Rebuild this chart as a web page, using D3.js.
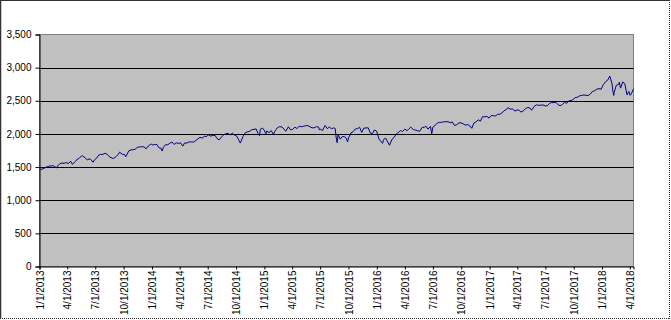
<!DOCTYPE html>
<html><head><meta charset="utf-8">
<script src="https://cdn.jsdelivr.net/npm/d3@7"></script>
<style>
html,body{margin:0;padding:0;background:#fff;}
svg{display:block;}
text{font-family:Arial,"Liberation Sans",sans-serif;}
</style></head>
<body>
<svg id="chart" width="671" height="320"></svg>
<script>
const dates = [
"2013-01-02","2013-01-11","2013-01-18","2013-01-25","2013-02-01","2013-02-08","2013-02-15","2013-02-25","2013-03-01","2013-03-08","2013-03-15","2013-03-22","2013-03-28","2013-04-05","2013-04-12","2013-04-18","2013-04-26","2013-05-03","2013-05-10","2013-05-17","2013-05-21","2013-05-31","2013-06-05","2013-06-14","2013-06-24","2013-06-28","2013-07-05","2013-07-12","2013-07-19","2013-07-26","2013-08-02","2013-08-09","2013-08-16","2013-08-27","2013-08-30","2013-09-06","2013-09-13","2013-09-18","2013-09-27","2013-10-04","2013-10-08","2013-10-18","2013-10-25","2013-11-01","2013-11-08","2013-11-15","2013-11-22","2013-11-29","2013-12-06","2013-12-13","2013-12-20","2013-12-27","2013-12-31",
"2014-01-03","2014-01-10","2014-01-17","2014-01-24","2014-01-31","2014-02-03","2014-02-07","2014-02-14","2014-02-21","2014-02-28","2014-03-07","2014-03-14","2014-03-21","2014-03-28","2014-04-04","2014-04-11","2014-04-17","2014-04-25","2014-05-02","2014-05-09","2014-05-16","2014-05-23","2014-05-30","2014-06-06","2014-06-13","2014-06-20","2014-06-27","2014-07-03","2014-07-11","2014-07-18","2014-07-25","2014-07-31","2014-08-07","2014-08-15","2014-08-22","2014-08-29","2014-09-05","2014-09-12","2014-09-19","2014-09-26","2014-10-03","2014-10-10","2014-10-15","2014-10-17","2014-10-24","2014-10-31","2014-11-07","2014-11-14","2014-11-21","2014-11-28","2014-12-05","2014-12-12","2014-12-16","2014-12-19","2014-12-26","2014-12-31",
"2015-01-06","2015-01-09","2015-01-16","2015-01-23","2015-01-30","2015-02-06","2015-02-13","2015-02-20","2015-02-27","2015-03-06","2015-03-11","2015-03-20","2015-03-27","2015-04-02","2015-04-10","2015-04-17","2015-04-24","2015-05-01","2015-05-08","2015-05-15","2015-05-22","2015-05-29","2015-06-05","2015-06-12","2015-06-19","2015-06-26","2015-06-29","2015-07-02","2015-07-08","2015-07-17","2015-07-24","2015-07-31","2015-08-07","2015-08-14","2015-08-19","2015-08-21","2015-08-25","2015-08-28","2015-09-04","2015-09-11","2015-09-18","2015-09-23","2015-09-28","2015-10-02","2015-10-09","2015-10-16","2015-10-23","2015-10-30","2015-11-06","2015-11-13","2015-11-20","2015-11-27","2015-12-04","2015-12-11","2015-12-18","2015-12-24","2015-12-31",
"2016-01-08","2016-01-15","2016-01-20","2016-01-22","2016-01-29","2016-02-05","2016-02-11","2016-02-19","2016-02-26","2016-03-04","2016-03-11","2016-03-18","2016-03-24","2016-04-01","2016-04-08","2016-04-15","2016-04-20","2016-04-29","2016-05-06","2016-05-13","2016-05-19","2016-05-27","2016-06-03","2016-06-08","2016-06-15","2016-06-23","2016-06-27","2016-07-01","2016-07-08","2016-07-15","2016-07-22","2016-07-29","2016-08-05","2016-08-12","2016-08-19","2016-08-26","2016-09-02","2016-09-09","2016-09-16","2016-09-23","2016-09-30","2016-10-07","2016-10-14","2016-10-21","2016-10-28","2016-11-04","2016-11-11","2016-11-18","2016-11-25","2016-12-02","2016-12-09","2016-12-16","2016-12-23","2016-12-30",
"2017-01-06","2017-01-13","2017-01-20","2017-01-27","2017-02-03","2017-02-10","2017-02-17","2017-02-24","2017-03-01","2017-03-10","2017-03-17","2017-03-24","2017-03-31","2017-04-07","2017-04-13","2017-04-21","2017-04-28","2017-05-05","2017-05-12","2017-05-17","2017-05-26","2017-06-02","2017-06-09","2017-06-16","2017-06-23","2017-06-30","2017-07-07","2017-07-14","2017-07-21","2017-07-28","2017-08-04","2017-08-11","2017-08-18","2017-08-25","2017-09-01","2017-09-08","2017-09-15","2017-09-22","2017-09-29","2017-10-06","2017-10-13","2017-10-20","2017-10-27","2017-11-03","2017-11-10","2017-11-17","2017-11-24","2017-12-01","2017-12-08","2017-12-15","2017-12-22","2017-12-29",
"2018-01-05","2018-01-12","2018-01-19","2018-01-26","2018-02-02","2018-02-05","2018-02-08","2018-02-09","2018-02-16","2018-02-23","2018-02-26","2018-03-02","2018-03-09","2018-03-16","2018-03-23","2018-03-29","2018-04-02","2018-04-06","2018-04-13"
];
const values = [
1462,1472,1486,1503,1513,1518,1520,1488,1518,1551,1561,1556,1569,1553,1588,1541,1582,1614,1633,1667,1669,1631,1609,1626,1573,1606,1632,1680,1692,1691,1709,1691,1655,1630,1633,1655,1688,1725,1692,1690,1656,1745,1759,1762,1771,1798,1805,1806,1805,1775,1818,1841,1848,
1831,1842,1839,1790,1783,1742,1797,1838,1836,1859,1878,1841,1866,1857,1865,1816,1864,1863,1881,1878,1878,1900,1924,1950,1936,1963,1961,1985,1967,1978,1978,1931,1910,1955,1988,2003,2008,1985,2011,1983,1968,1906,1862,1887,1965,2018,2032,2039,2064,2068,2076,2002,1973,2071,2089,2059,
2003,2045,2019,2051,1995,2055,2097,2110,2105,2071,2040,2108,2061,2067,2102,2081,2117,2108,2116,2123,2126,2107,2092,2094,2110,2102,2058,2077,2047,2127,2080,2104,2078,2092,2080,1971,1868,1989,1921,1961,1958,1939,1881,1951,2015,2033,2075,2079,2100,2023,2089,2090,2092,2012,2006,2061,2044,
1922,1880,1859,1907,1940,1880,1829,1918,1948,1999,2022,2050,2036,2073,2048,2081,2102,2065,2058,2047,2040,2099,2099,2119,2072,2113,2001,2103,2130,2162,2175,2174,2183,2184,2184,2169,2180,2128,2139,2165,2168,2153,2133,2141,2126,2085,2164,2182,2213,2192,2260,2258,2264,2239,
2277,2275,2271,2295,2297,2316,2351,2367,2396,2373,2378,2344,2363,2355,2329,2349,2384,2399,2391,2357,2416,2439,2432,2433,2438,2423,2425,2459,2473,2472,2476,2441,2426,2443,2477,2461,2500,2502,2519,2549,2553,2575,2581,2588,2582,2579,2602,2642,2652,2675,2683,2674,
2743,2786,2810,2873,2762,2649,2581,2620,2732,2747,2779,2691,2786,2752,2588,2641,2582,2604,2680
];
const yTicks = [0,500,1000,1500,2000,2500,3000,3500];
const xTickDates = ["2013-01-01","2013-04-01","2013-07-01","2013-10-01","2014-01-01","2014-04-01","2014-07-01","2014-10-01","2015-01-01","2015-04-01","2015-07-01","2015-10-01","2016-01-01","2016-04-01","2016-07-01","2016-10-01","2017-01-01","2017-04-01","2017-07-01","2017-10-01","2018-01-01","2018-04-01"];

const parse = d3.utcParse("%Y-%m-%d");
const data = dates.map((d,i)=>({date:parse(d), value:values[i]}));
const tickDates = xTickDates.map(parse);
const fmtDate = d => `${d.getUTCMonth()+1}/${d.getUTCDate()}/${d.getUTCFullYear()}`;

const svg = d3.select("#chart");
const L = 39.5, R = 633.5, T = 34.5, B = 266.5;

// outer frame
svg.append("line").attr("x1",0).attr("x2",669).attr("y1",0.5).attr("y2",0.5).attr("stroke","#333").attr("stroke-width",1);
svg.append("line").attr("x1",0.5).attr("x2",0.5).attr("y1",0).attr("y2",318).attr("stroke","#333").attr("stroke-width",1.5);
svg.append("line").attr("x1",669.5).attr("x2",669.5).attr("y1",0).attr("y2",319).attr("stroke","#333").attr("stroke-dasharray","1,1");
svg.append("line").attr("x1",0).attr("x2",670).attr("y1",318.5).attr("y2",318.5).attr("stroke","#333").attr("stroke-dasharray","1,1");

const x = d3.scaleUtc().domain([parse("2013-01-01"), data[data.length-1].date]).range([L, R]);
const y = d3.scaleLinear().domain([0,3500]).range([B, T]);

// plot area
svg.append("rect").attr("x",L).attr("y",T).attr("width",R-L).attr("height",B-T)
  .attr("fill","#C0C0C0").attr("stroke","#808080").attr("stroke-width",1);

// gridlines
svg.append("g").selectAll("line").data(yTicks.filter(v=>v>0 && v<3500)).join("line")
  .attr("x1",L).attr("x2",R)
  .attr("y1",d=>Math.round(y(d))+0.5).attr("y2",d=>Math.round(y(d))+0.5)
  .attr("stroke","#000").attr("stroke-width",1);

// y axis
const yAxis = d3.axisLeft(y).tickValues(yTicks).tickSize(4).tickPadding(4).tickFormat(d3.format(","));
const gy = svg.append("g").attr("transform",`translate(${L},0)`).call(yAxis);
gy.select(".domain").attr("stroke","#000");
gy.selectAll(".tick line").attr("stroke","#000");
gy.selectAll("text").attr("font-size",10).attr("fill","#000").attr("font-family","Arial, 'Liberation Sans', sans-serif");

// x axis
const xAxis = d3.axisBottom(x).tickValues(tickDates).tickSize(3).tickFormat(fmtDate);
const gx = svg.append("g").attr("transform",`translate(0,${B})`).call(xAxis);
gx.select(".domain").attr("stroke","#000");
gx.selectAll(".tick line").attr("stroke","#000");
gx.selectAll("text").attr("font-size",10).attr("fill","#000").attr("font-family","Arial, 'Liberation Sans', sans-serif")
  .attr("text-anchor","end").attr("dy","0.35em")
  .attr("transform","translate(0,4) rotate(-90)").attr("x",0).attr("y",0);

// line
const line = d3.line().x(d=>x(d.date)).y(d=>y(d.value));
svg.append("path").datum(data).attr("d",line).attr("fill","none").attr("stroke","#000080").attr("stroke-width",1);
</script>
</body></html>
